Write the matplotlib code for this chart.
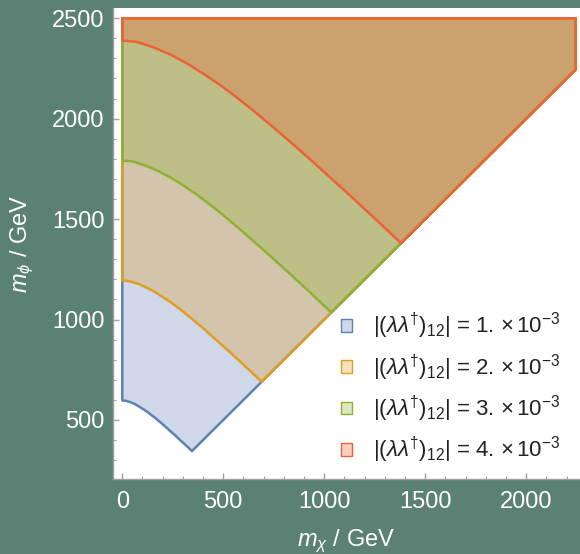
import matplotlib
matplotlib.use("Agg")
import matplotlib.pyplot as plt
from matplotlib.patches import Polygon, Patch
from matplotlib.ticker import MultipleLocator
from matplotlib.colors import to_rgba

plt.rcParams['font.family'] = ['Liberation Sans', 'DejaVu Sans']
plt.rcParams['mathtext.fontset'] = 'custom'
plt.rcParams['mathtext.rm'] = 'Liberation Sans'
plt.rcParams['mathtext.it'] = 'Liberation Sans:italic'
plt.rcParams['mathtext.bf'] = 'Liberation Sans:bold'

# |(lambda lambda^dagger)_12| values (x 10^-3)
couplings = ["1.", "2.", "3.", "4."]
colors = ["#5E81B5", "#E19C24", "#8FB032", "#EB6235"]

# lower boundary m_phi(m_chi) of each allowed region (GeV)
mchi_1 = [0, 19, 39, 60, 80, 100, 121, 141, 163, 183, 204, 225, 245, 265, 286, 315, 345]
mphi_1 = [597, 595, 589, 580, 569, 556, 542, 527, 510, 493, 475, 456, 438, 420, 400, 374, 345]

mchi_2 = [0, 38, 78, 120, 160, 200, 243, 283, 325, 365, 408, 450, 490, 530, 573, 630, 690]
mphi_2 = [1195, 1190, 1178, 1159, 1138, 1112, 1084, 1054, 1020, 986, 950, 912, 876, 840, 800, 747, 690]

mchi_3 = [0, 56, 116, 180, 240, 300, 364, 424, 488, 548, 611, 675, 735, 795, 859, 945, 1035]
mphi_3 = [1792, 1786, 1766, 1738, 1706, 1669, 1625, 1580, 1529, 1479, 1424, 1368, 1314, 1259, 1201, 1120, 1035]

mchi_4 = [0, 75, 155, 240, 320, 400, 485, 565, 650, 730, 815, 900, 980, 1060, 1145, 1260, 1380]
mphi_4 = [2390, 2381, 2355, 2318, 2275, 2225, 2167, 2107, 2039, 1972, 1899, 1824, 1752, 1679, 1601, 1494, 1380]

# plot range of the scan
mchi_max = 2245
mphi_max = 2500

bg = "#5b8074"
fig = plt.figure(figsize=(5.8, 5.54), dpi=100, facecolor=bg)
ax = fig.add_axes([113 / 580, 1 - 479 / 554, 467 / 580, 471 / 554])
ax.set_facecolor("white")

curves = [(mchi_1, mphi_1), (mchi_2, mphi_2), (mchi_3, mphi_3), (mchi_4, mphi_4)]
handles = []
for (xs, ys), col, c in zip(curves, colors, couplings):
    pts = list(zip(xs, ys))
    pts += [(mchi_max, mchi_max), (mchi_max, mphi_max), (0, mphi_max)]
    poly = Polygon(pts, closed=True, facecolor=to_rgba(col, 0.3),
                   edgecolor=col, linewidth=1.8, joinstyle="round")
    ax.add_patch(poly)
    label = r"$|(\lambda\lambda^{\dagger})_{12}|$ = " + c + r" $\times\,$10$^{-3}$"
    handles.append(Patch(facecolor=to_rgba(col, 0.3), edgecolor=col,
                         linewidth=1.0, label=label))

ax.set_xlim(-46, 2266)
ax.set_ylim(206, 2551)

ax.xaxis.set_major_locator(MultipleLocator(500))
ax.xaxis.set_minor_locator(MultipleLocator(100))
ax.yaxis.set_major_locator(MultipleLocator(500))
ax.yaxis.set_minor_locator(MultipleLocator(100))

for s in ["top", "right"]:
    ax.spines[s].set_visible(False)
for s in ["left", "bottom"]:
    ax.spines[s].set_color("#a0a0a0")
    ax.spines[s].set_linewidth(1.0)

ax.tick_params(which="both", direction="in", color="#a0a0a0", labelcolor="white",
               labelsize=17)
ax.tick_params(which="major", length=4.5, width=1.0)
ax.tick_params(which="minor", length=2.5, width=0.8)
ax.tick_params(axis="x", which="both", pad=9)
ax.tick_params(axis="y", which="both", pad=6)

ax.set_xlabel(r"$m_\chi$ / GeV", color="white", fontsize=17, labelpad=10)
ax.set_ylabel(r"$m_\phi$ / GeV", color="white", fontsize=17, labelpad=12)

leg = ax.legend(handles=handles, loc="upper left",
                bbox_to_anchor=(341 / 580, 1 - 311 / 554),
                bbox_transform=fig.transFigure, frameon=False,
                fontsize=16, handlelength=0.5, handleheight=0.5,
                handletextpad=0.95, labelspacing=0.5, borderpad=0,
                borderaxespad=0)
for t in leg.get_texts():
    t.set_color("#222222")

fig.savefig("out.png", dpi=100, facecolor=bg)
